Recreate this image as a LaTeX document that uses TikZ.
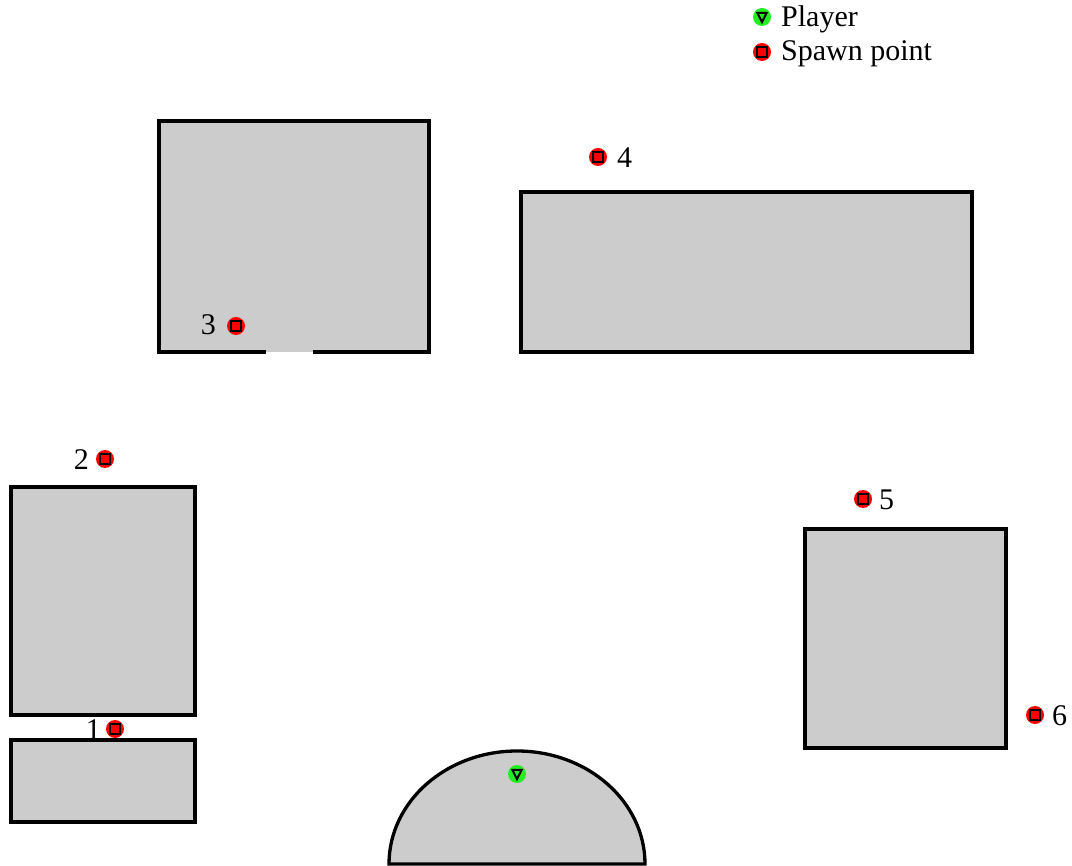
\documentclass[tikz,border=0pt]{standalone}
\usepackage{fontspec}
\setmainfont{Liberation Serif}
\definecolor{roomgray}{HTML}{CCCCCC}
\definecolor{pgreen}{HTML}{22EE22}
\begin{document}
\begin{tikzpicture}[x=1pt,y=1pt,
  room/.style={fill=roomgray,draw=black,line width=3.3pt,line join=miter},
  lbl/.style={inner sep=0pt,font=\fontsize{30}{34}\selectfont},
  spawn/.pic={\fill[red] (0,0) circle (9);
              \draw[black,fill=red,line width=2pt] (-4.7,-4.7) rectangle (4.7,4.7);},
  player/.pic={\fill[pgreen] (0,0) circle (9);
              \draw[black,line width=2pt,line join=miter] (-4.7,4.2) -- (4.7,4.2) -- (0,-5.2) -- cycle;}
]
\useasboundingbox (0,0) rectangle (1072,-866);
% rooms
\fill[roomgray] (159,-121) rectangle (429,-352);
\draw[line width=3.3pt,line join=miter] (266,-352) -- (159,-352) -- (159,-121) -- (429,-121) -- (429,-352) -- (313,-352);
\draw[room] (521,-192) rectangle (972,-352);
\draw[room] (11,-487) rectangle (195,-715);
\draw[room] (11,-740) rectangle (195,-822);
\draw[room] (805,-529) rectangle (1006,-748);
\draw[room] (389,-864) arc[start angle=180,end angle=0,x radius=128pt,y radius=113pt] -- cycle;
% spawn points
\coordinate (s1) at (115,-729);
\coordinate (s2) at (105,-459);
\coordinate (s3) at (236,-326);
\coordinate (s4) at (598,-157);
\coordinate (s5) at (863,-499);
\coordinate (s6) at (1035,-715);
\coordinate (pl) at (517,-774);
\coordinate (lg1) at (762,-17);
\coordinate (lg2) at (762,-52);
\foreach \p in {s1,s2,s3,s4,s5,s6,lg2} \pic at (\p) {spawn};
\foreach \p in {pl,lg1} \pic at (\p) {player};
\node[lbl,anchor=east] (l1) at (101,-730) {1};
\node[lbl,anchor=east] (l2) at (89,-460) {2};
\node[lbl,anchor=east] (l3) at (216,-325) {3};
\node[lbl,anchor=west] (l4) at (617,-158) {4};
\node[lbl,anchor=west] (l5) at (879,-500) {5};
\node[lbl,anchor=west] (l6) at (1052,-716) {6};
\node[lbl,anchor=west] (tp) at (781,-19) {Player};
\node[lbl,anchor=west] (ts) at (781,-54) {Spawn point};
\end{tikzpicture}
\end{document}
